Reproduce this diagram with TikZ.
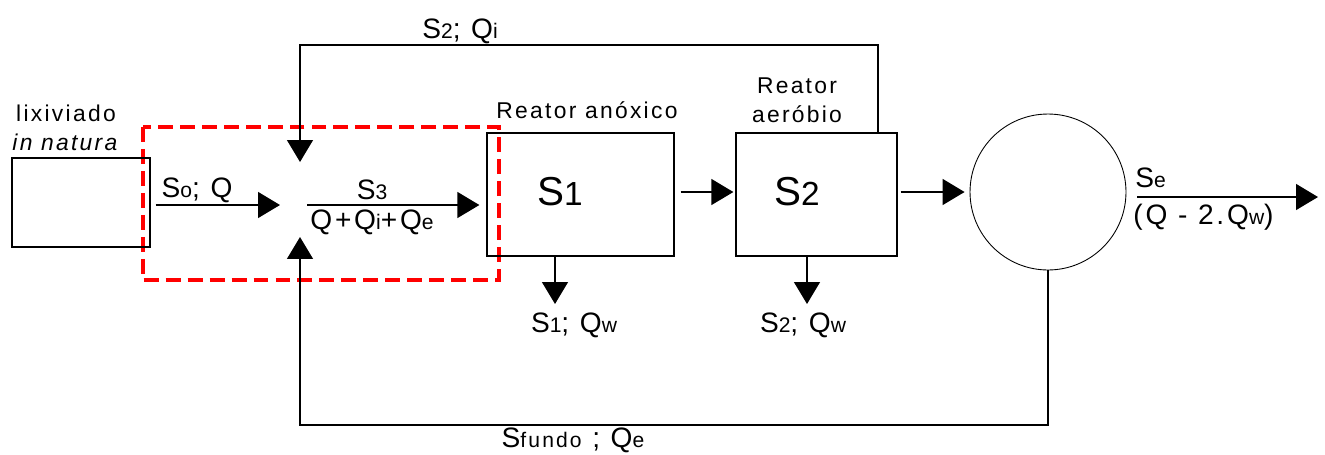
\documentclass[tikz,border=0pt]{standalone}
\usepackage{fontspec}
\setmainfont{Liberation Sans}[LetterSpace=10]
\usetikzlibrary{arrows.meta, positioning}
\newcommand{\lo}[2][12]{{\fontsize{#1}{#1}\selectfont #2}}

\begin{document}
\begin{tikzpicture}[x=0.02cm,y=-0.02cm,line width=0.75pt,>={Triangle[length=0.44cm,width=0.52cm]},
    flow/.style={->},
    unit/.style={draw,minimum height=2.46cm,inner sep=0pt},
    txt/.style={font=\fontsize{16}{19}\selectfont,inner sep=1pt},
    unitlbl/.style={font=\fontsize{13}{16.5}\selectfont,inner sep=1pt,align=center},
    big/.style={font=\fontsize{23}{26}\selectfont,inner sep=1pt},
    dashbox/.style={draw=red,line width=2.1pt,dash pattern=on 8.5pt off 4pt}]
      \useasboundingbox (0,0) rectangle (1325,454);
      \draw[dashbox] (143,127) rectangle (499,280);

      \node[draw,minimum width=2.76cm,minimum height=1.78cm] (lix) at (81,202.5) {};
      \node[unit,minimum width=3.74cm] (anox) at (580.5,194.5) {};
      \node[unit,minimum width=3.22cm] (aer) at (816.5,194.5) {};
      \node[draw,circle,minimum size=3.12cm,inner sep=0pt,line width=0.5pt] (clar) at (1048,192) {};

      \coordinate (mix) at (300,205);
      \coordinate (rcyA) at (878,45);
      \coordinate (rcyB) at (300,45);
      \coordinate (fundo) at (300,425);
      \coordinate (w1) at (555,304);
      \coordinate (w2) at (807,304);
      \coordinate (efl) at (1318,197);

      \draw[flow,shorten <=0.1cm,shorten >=0.4cm] (lix.east |- mix) -- (mix);
      \draw[flow,shorten <=0.14cm,shorten >=0.14cm] (mix) -- (mix -| anox.west);
      \draw[flow,shorten <=0.12cm,shorten >=0.04cm] (anox.east |- clar) -- (aer.west |- clar);
      \draw[flow,shorten <=0.06cm,shorten >=0.1cm] (aer.east |- clar) -- (clar.west);
      \draw[flow,shorten <=0.22cm] (clar.east |- efl) -- (efl);
      \draw[flow,shorten >=0.86cm] (aer.north -| rcyA) -- (rcyA) -- (rcyB) -- (mix);
      \draw[flow,shorten >=0.64cm] (clar.south) |- (fundo) -- (mix);
      \draw[flow] (anox.south -| w1) -- (w1);
      \draw[flow] (aer.south -| w2) -- (w2);

      \node[txt] (rcylbl) at (460,31) {S\lo{2}; Q\lo{i}};
      \node[txt] (fundolbl) at (573,440) {S\lo{fundo} ; Q\lo{e}};
      \node[txt] (feedlbl) at (197,190) {S\lo{o}; Q};
      \node[txt] (s3lbl) at (372,190) {S\lo{3}};
      \node[txt] (qlbl) at (372,222) {Q+Q\lo{i}+Q\lo{e}};
      \node[txt] (w1lbl) at (574,325) {S\lo{1}; Q\lo{w}};
      \node[txt] (w2lbl) at (803,325) {S\lo{2}; Q\lo{w}};
      \node[unitlbl] (anoxlbl) at (587,110) {Reator anóxico};
      \node[unitlbl] (aerlbl) at (797,100) {Reator\\aeróbio};
      \node[unitlbl] (lixlbl) at (66,128) {lixiviado\\\textit{in natura}};
      \node[big] (s1) at (560,192) {S\lo[19]{1}};
      \node[big] (s2) at (797,192) {S\lo[19]{2}};
      \node[txt,anchor=west] (selbl) at (1133,178) {S\lo{e}};
      \node[txt,anchor=west] (efllbl) at (1131,217) {(Q - 2.Q\lo{w})};
\end{tikzpicture}
\end{document}
